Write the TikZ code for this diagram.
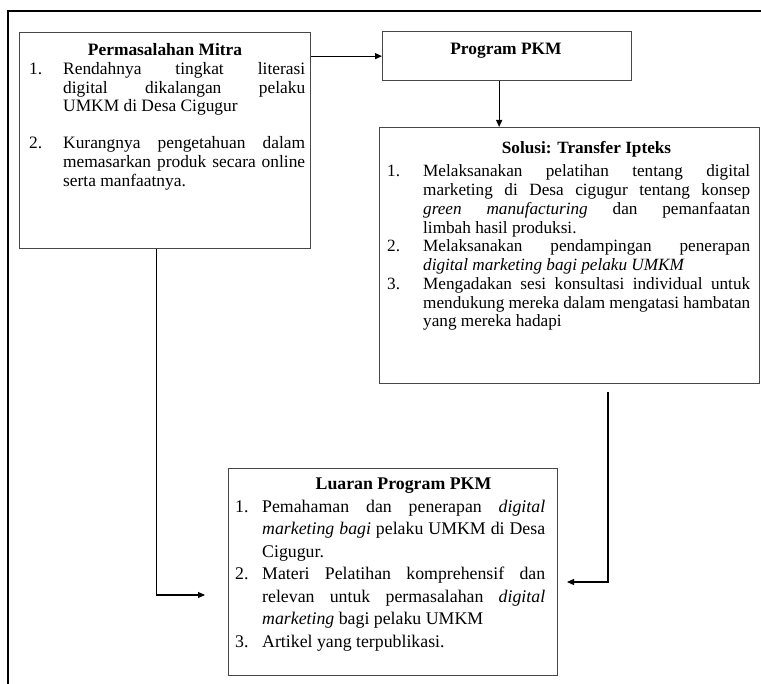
\documentclass[tikz,border=0pt]{standalone}
\usepackage{fontspec}
\setmainfont{Liberation Serif}
\usetikzlibrary{arrows.meta,calc}
\newlength{\hind}
\newcommand{\itm}[2]{\hangindent=\hind\hangafter=1\noindent\makebox[\hind][l]{#1}#2}
\newcommand{\setpar}{\tolerance=10000\hbadness=10000\hyphenpenalty=10000\uchyph=0\frenchspacing\parskip=0pt\parindent=0pt}
\begin{document}
\begin{tikzpicture}[x=1pt,y=-1pt,
  box/.style={draw=black!72, line width=1.3pt, inner sep=0pt, anchor=north west},
  txt/.style={inner sep=0pt, anchor=base west, align=justify},
  ttl/.style={inner sep=0pt, anchor=base, font=\bfseries},
  arr/.style={-{Triangle[length=7pt,width=6pt]}, line width=1.1pt, draw=black}]
\useasboundingbox (0,0) rectangle (761,684);
\draw[line width=2pt] (8,684) -- (8,11) -- (761,11);

% boxes
\node[box, minimum width=291pt, minimum height=216pt] (perm) at (19,32) {};
\node[box, minimum width=249pt, minimum height=49pt] (prog) at (382,31) {};
\node[box, minimum width=380pt, minimum height=256pt] (sol) at (379,127) {};
\node[box, minimum width=329pt, minimum height=207pt] (lua) at (228,468) {};

% titles
\node[ttl] (permT) at (165,56) {\fontsize{17.4}{18.6}\selectfont Permasalahan Mitra};
\node[ttl] (progT) at (506,55) {\fontsize{17.4}{18.6}\selectfont Program PKM};
\node[ttl] (solT) at (586.5,154) {\fontsize{17.2}{18.75}\selectfont Solusi: Transfer Ipteks};
\node[ttl] (luaT) at (403.5,490) {\fontsize{17.8}{22.5}\selectfont Luaran Program PKM};

% texts
\node[txt, text width=276pt] (permX) at (29,74.5) {\fontsize{17.4}{18.6}\selectfont\setpar\setlength{\hind}{34pt}%
\itm{1.}{Rendahnya tingkat literasi\linebreak digital dikalangan pelaku\linebreak UMKM di Desa Cigugur}\par
\vspace{18.6pt}%
\itm{2.}{Kurangnya pengetahuan dalam\linebreak memasarkan produk secara online\linebreak serta manfaatnya.}\par};

\node[txt, text width=363pt] (solX) at (387,177) {\fontsize{17.2}{18.75}\selectfont\setpar\setlength{\hind}{36pt}%
\itm{1.}{Melaksanakan pelatihan tentang digital\linebreak marketing di Desa cigugur tentang konsep\linebreak \textit{green manufacturing} dan pemanfaatan\linebreak limbah hasil produksi.}\par
\itm{2.}{Melaksanakan pendampingan penerapan\linebreak \textit{digital marketing bagi pelaku UMKM}}\par
\itm{3.}{Mengadakan sesi konsultasi individual untuk\linebreak mendukung mereka dalam mengatasi hambatan\linebreak yang mereka hadapi}\par};

\node[txt, text width=310pt] (luaX) at (235,512.5) {\fontsize{17.8}{22.5}\selectfont\setpar\setlength{\hind}{27pt}%
\itm{1.}{Pemahaman dan penerapan \textit{digital}\linebreak \textit{marketing bagi} pelaku UMKM di Desa\linebreak Cigugur.}\par
\itm{2.}{Materi Pelatihan komprehensif dan\linebreak relevan untuk permasalahan \textit{digital}\linebreak \textit{marketing} bagi pelaku UMKM}\par
\itm{3.}{Artikel yang terpublikasi.}\par};

% connectors
\draw[arr] (perm.east |- prog.west) -- (prog.west);
\draw[arr] ([xshift=-8pt]prog.south) -- ([xshift=-8pt]prog.south |- sol.north);
\coordinate (a1) at (205,595);
\draw[arr] ([xshift=-8.5pt]perm.south) |- (a1);
\coordinate (b0) at (608,392);
\coordinate (b1) at (567,582);
\draw[arr] (b0) |- (b1);
\end{tikzpicture}
\end{document}
